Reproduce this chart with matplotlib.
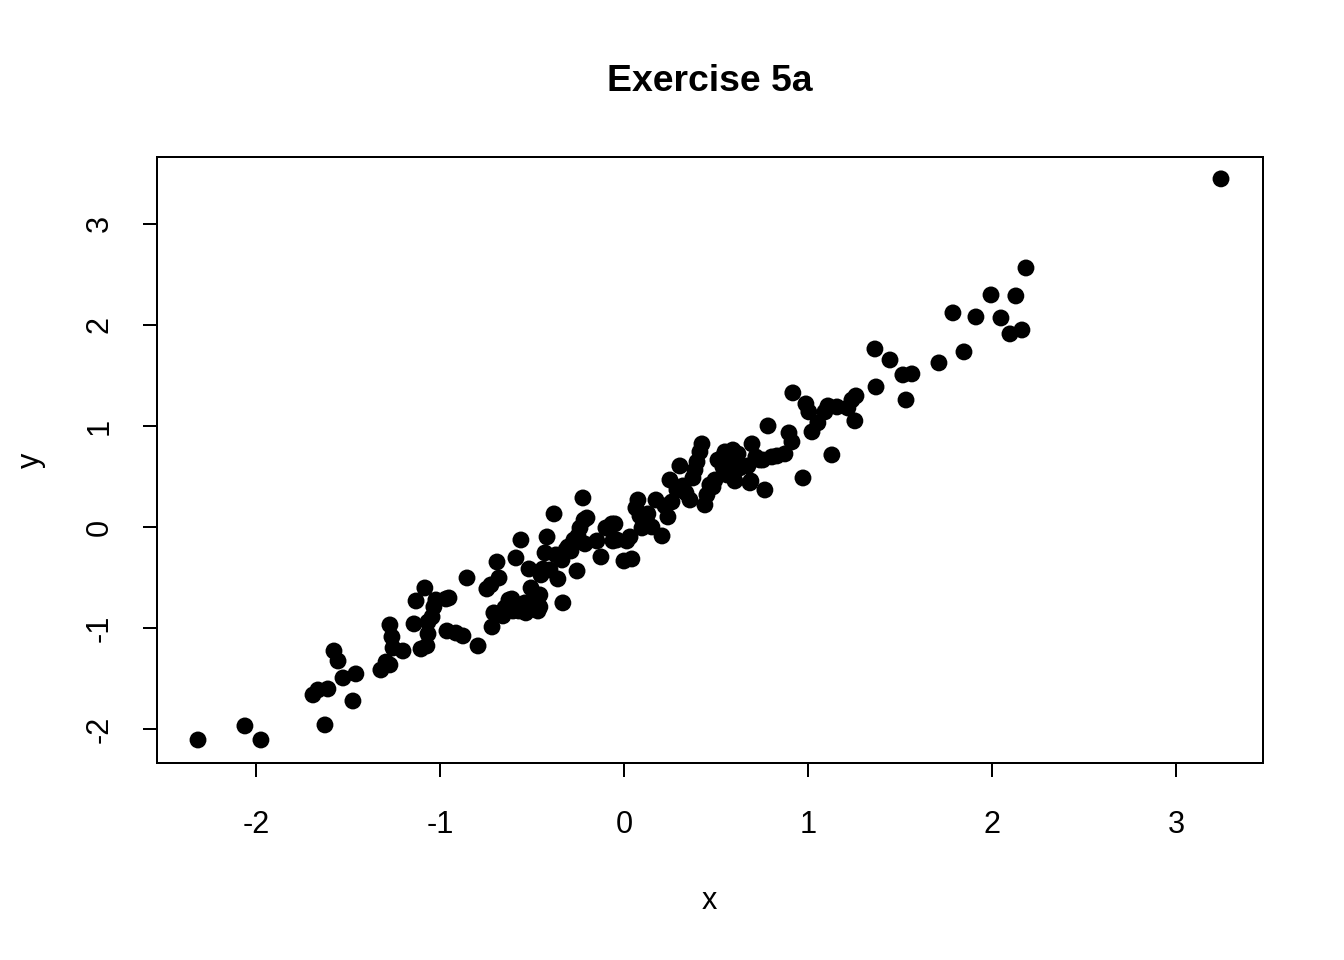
import matplotlib
matplotlib.use("Agg")
import matplotlib.pyplot as plt

plt.rcParams['font.family'] = ['Liberation Sans', 'DejaVu Sans']

x = [-2.315, -2.060, -1.973, -1.625, -1.690, -1.663, -1.609, -1.527, -1.473, -1.457,
     -1.576, -1.554, -1.321, -1.293, -1.272, -1.272, -1.261, -1.255, -1.201, -1.130,
     -1.141, -1.082, -1.103, -1.071, -1.065, -1.065, -1.043, -1.033, -1.022, -0.967,
     -0.951, -0.962, -0.913, -0.875, -0.853, -0.793, -0.745, -0.723, -0.717, -0.707,
     -0.690, -0.679, -0.658, -0.647, -0.630, -0.625, -0.609, -0.603, -0.587, -0.571,
     -0.560, -0.538, -0.533, -0.516, -0.505, -0.495, -0.484, -0.467, -0.457, -0.457,
     -0.451, -0.440, -0.429, -0.418, -0.402, -0.380, -0.370, -0.359, -0.337, -0.332,
     -0.315, -0.304, -0.288, -0.272, -0.255, -0.250, -0.239, -0.223, -0.217, -0.212,
     -0.201, -0.147, -0.125, -0.098, -0.076, -0.065, -0.060, -0.049, -0.038, 0.000,
     0.016, 0.033, 0.043, 0.065, 0.076, 0.087, 0.098, 0.120, 0.130, 0.152,
     0.174, 0.207, 0.223, 0.239, 0.250, 0.261, 0.288, 0.304, 0.321, 0.337,
     0.359, 0.375, 0.386, 0.397, 0.413, 0.424, 0.440, 0.451, 0.467, 0.495,
     0.511, 0.533, 0.549, 0.560, 0.565, 0.592, 0.603, 0.620, 0.630, 0.674,
     0.685, 0.696, 0.717, 0.739, 0.766, 0.783, 0.804, 0.832, 0.875, 0.897,
     0.913, 0.918, 0.973, 0.989, 1.005, 1.022, 1.054, 1.092, 1.109, 1.130,
     1.158, 1.217, 1.239, 1.255, 1.261, 1.364, 1.370, 1.446, 1.516, 1.533,
     1.565, 1.712, 1.788, 1.848, 1.913, 1.995, 2.049, 2.098, 2.130, 2.163,
     2.185, 3.245, 0.484, 0.538, 0.755, 0.690]
y = [-2.109, -1.970, -2.109, -1.960, -1.663, -1.614, -1.604, -1.495, -1.723, -1.455,
     -1.228, -1.327, -1.416, -1.337, -1.366, -0.970, -1.089, -1.198, -1.228, -0.733,
     -0.960, -0.604, -1.208, -1.178, -1.059, -0.941, -0.891, -0.792, -0.723, -0.713,
     -0.703, -1.030, -1.050, -1.079, -0.505, -1.178, -0.614, -0.574, -0.990, -0.851,
     -0.347, -0.505, -0.881, -0.802, -0.772, -0.723, -0.713, -0.832, -0.307, -0.832,
     -0.129, -0.752, -0.851, -0.416, -0.604, -0.762, -0.723, -0.832, -0.792, -0.673,
     -0.475, -0.416, -0.257, -0.099, -0.426, 0.129, -0.277, -0.515, -0.327, -0.752,
     -0.228, -0.198, -0.238, -0.129, -0.436, -0.089, -0.010, 0.287, 0.069, -0.168,
     0.089, -0.139, -0.297, -0.010, 0.000, 0.030, -0.139, 0.030, -0.129, -0.337,
     -0.139, -0.099, -0.317, 0.188, 0.267, 0.109, -0.010, 0.069, 0.129, 0.000,
     0.267, -0.089, 0.208, 0.099, 0.465, 0.248, 0.366, 0.604, 0.406, 0.337,
     0.267, 0.485, 0.564, 0.644, 0.743, 0.822, 0.218, 0.317, 0.416, 0.465,
     0.663, 0.683, 0.743, 0.515, 0.614, 0.762, 0.455, 0.723, 0.584, 0.604,
     0.436, 0.822, 0.693, 0.663, 0.366, 1.000, 0.693, 0.703, 0.723, 0.931,
     0.842, 1.327, 0.485, 1.218, 1.139, 0.941, 1.030, 1.139, 1.198, 0.713,
     1.188, 1.178, 1.257, 1.050, 1.297, 1.762, 1.386, 1.653, 1.505, 1.257,
     1.515, 1.624, 2.119, 1.733, 2.079, 2.297, 2.069, 1.911, 2.287, 1.950,
     2.564, 3.446, 0.396, 0.594, 0.663, 0.455]

fig = plt.figure(figsize=(7, 5), dpi=192)
ax = fig.add_axes([0.1168, 0.2052, 0.8229, 0.6313])
ax.scatter(x, y, s=40, c='black', edgecolors='none', zorder=3)
ax.set_xlim(-2.538, 3.473)
ax.set_ylim(-2.337, 3.663)
ax.set_xticks([-2, -1, 0, 1, 2, 3])
ax.set_yticks([-2, -1, 0, 1, 2, 3])
ax.set_xticklabels(['-2', '-1', '0', '1', '2', '3'])
ax.set_yticklabels(['-2', '-1', '0', '1', '2', '3'], rotation=90, va='center')
ax.tick_params(axis='both', length=5.25, width=0.75, labelsize=11.5, color='black')
ax.tick_params(axis='x', pad=12.5)
ax.tick_params(axis='y', pad=10.5)
for sp in ax.spines.values():
    sp.set_linewidth(0.75)
    sp.set_color('black')
fig.text(0.528, 0.915, 'Exercise 5a', ha='center', va='center', fontsize=14, fontweight='bold')
fig.text(0.528, 0.061, 'x', ha='center', va='center', fontsize=11.5)
fig.text(0.023, 0.5208, 'y', ha='center', va='center', fontsize=11.5, rotation=90)
fig.savefig('out.png', dpi=192)
